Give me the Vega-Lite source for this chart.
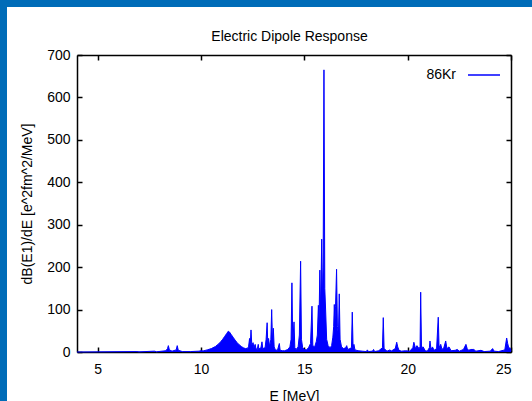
{
  "$schema": "https://vega.github.io/schema/vega-lite/v6.json",
  "width": 525,
  "height": 394,
  "autosize": {"type": "none"},
  "padding": {"left": 7, "top": 7, "right": 0, "bottom": 0},
  "background": "#006CB8",
  "title": {
    "text": "Electric Dipole Response",
    "frame": "group",
    "anchor": "middle",
    "orient": "top",
    "offset": 0,
    "baseline": "top",
    "dx": 20,
    "dy": 37,
    "font": "Liberation Sans",
    "fontSize": 14,
    "fontWeight": "normal",
    "color": "black"
  },
  "data": {
    "values": [
      {"E": 4.0, "v": 0}, {"E": 5.5, "v": 0.5}, {"E": 6.9, "v": 1}, {"E": 7.0, "v": 0.3},
      {"E": 7.75, "v": 2}, {"E": 7.85, "v": 0.5}, {"E": 8.3, "v": 3}, {"E": 8.38, "v": 8},
      {"E": 8.42, "v": 15}, {"E": 8.47, "v": 5}, {"E": 8.6, "v": 2}, {"E": 8.8, "v": 5},
      {"E": 8.85, "v": 15}, {"E": 8.9, "v": 4}, {"E": 9.1, "v": 1}, {"E": 9.5, "v": 1},
      {"E": 9.9, "v": 2}, {"E": 10.0, "v": 3}, {"E": 10.1, "v": 2.5}, {"E": 10.3, "v": 5},
      {"E": 10.5, "v": 8}, {"E": 10.7, "v": 13}, {"E": 10.85, "v": 19}, {"E": 10.95, "v": 24},
      {"E": 11.05, "v": 30}, {"E": 11.15, "v": 37}, {"E": 11.25, "v": 44}, {"E": 11.32, "v": 49},
      {"E": 11.38, "v": 47}, {"E": 11.45, "v": 42}, {"E": 11.55, "v": 35}, {"E": 11.65, "v": 28},
      {"E": 11.75, "v": 22}, {"E": 11.85, "v": 17}, {"E": 11.95, "v": 13}, {"E": 12.05, "v": 10},
      {"E": 12.15, "v": 8}, {"E": 12.25, "v": 9}, {"E": 12.3, "v": 12}, {"E": 12.35, "v": 32},
      {"E": 12.38, "v": 14}, {"E": 12.42, "v": 52}, {"E": 12.46, "v": 16}, {"E": 12.52, "v": 22},
      {"E": 12.56, "v": 10}, {"E": 12.62, "v": 18}, {"E": 12.66, "v": 8}, {"E": 12.72, "v": 6},
      {"E": 12.77, "v": 18}, {"E": 12.8, "v": 7}, {"E": 12.9, "v": 10}, {"E": 12.95, "v": 24},
      {"E": 12.99, "v": 8}, {"E": 13.1, "v": 10}, {"E": 13.15, "v": 30}, {"E": 13.2, "v": 69},
      {"E": 13.23, "v": 20}, {"E": 13.27, "v": 32}, {"E": 13.32, "v": 12}, {"E": 13.38, "v": 30},
      {"E": 13.42, "v": 100}, {"E": 13.46, "v": 25}, {"E": 13.5, "v": 56}, {"E": 13.54, "v": 12},
      {"E": 13.6, "v": 5}, {"E": 13.7, "v": 4}, {"E": 13.79, "v": 20}, {"E": 13.83, "v": 4},
      {"E": 13.95, "v": 3}, {"E": 14.05, "v": 3}, {"E": 14.2, "v": 6}, {"E": 14.3, "v": 12},
      {"E": 14.36, "v": 30}, {"E": 14.4, "v": 163}, {"E": 14.44, "v": 20}, {"E": 14.5, "v": 71},
      {"E": 14.54, "v": 10}, {"E": 14.6, "v": 6}, {"E": 14.7, "v": 12}, {"E": 14.76, "v": 40},
      {"E": 14.82, "v": 214}, {"E": 14.86, "v": 30}, {"E": 14.92, "v": 10}, {"E": 15.0, "v": 6},
      {"E": 15.1, "v": 5}, {"E": 15.2, "v": 10}, {"E": 15.3, "v": 20}, {"E": 15.37, "v": 108},
      {"E": 15.41, "v": 15}, {"E": 15.5, "v": 12}, {"E": 15.58, "v": 25}, {"E": 15.63, "v": 40},
      {"E": 15.68, "v": 110}, {"E": 15.71, "v": 70}, {"E": 15.75, "v": 193}, {"E": 15.79, "v": 90},
      {"E": 15.84, "v": 266}, {"E": 15.88, "v": 120}, {"E": 15.91, "v": 200}, {"E": 15.95, "v": 665},
      {"E": 15.99, "v": 150}, {"E": 16.03, "v": 99}, {"E": 16.08, "v": 30}, {"E": 16.15, "v": 15},
      {"E": 16.25, "v": 10}, {"E": 16.32, "v": 15}, {"E": 16.38, "v": 35}, {"E": 16.42, "v": 60},
      {"E": 16.45, "v": 112}, {"E": 16.48, "v": 70}, {"E": 16.51, "v": 108}, {"E": 16.56, "v": 195},
      {"E": 16.6, "v": 60}, {"E": 16.65, "v": 40}, {"E": 16.69, "v": 137}, {"E": 16.73, "v": 30},
      {"E": 16.8, "v": 12}, {"E": 16.9, "v": 8}, {"E": 17.0, "v": 10}, {"E": 17.05, "v": 15},
      {"E": 17.1, "v": 6}, {"E": 17.2, "v": 8}, {"E": 17.28, "v": 10}, {"E": 17.32, "v": 94},
      {"E": 17.36, "v": 10}, {"E": 17.4, "v": 18}, {"E": 17.45, "v": 5}, {"E": 17.6, "v": 3},
      {"E": 17.8, "v": 2}, {"E": 18.0, "v": 1}, {"E": 18.05, "v": 5}, {"E": 18.1, "v": 1},
      {"E": 18.3, "v": 2}, {"E": 18.35, "v": 6}, {"E": 18.4, "v": 1}, {"E": 18.6, "v": 3},
      {"E": 18.78, "v": 10}, {"E": 18.82, "v": 81}, {"E": 18.86, "v": 8}, {"E": 19.0, "v": 2},
      {"E": 19.15, "v": 5}, {"E": 19.2, "v": 2}, {"E": 19.4, "v": 8}, {"E": 19.47, "v": 23},
      {"E": 19.52, "v": 12}, {"E": 19.58, "v": 4}, {"E": 19.7, "v": 2}, {"E": 19.9, "v": 3},
      {"E": 20.1, "v": 2}, {"E": 20.25, "v": 10}, {"E": 20.3, "v": 23}, {"E": 20.38, "v": 8},
      {"E": 20.45, "v": 15}, {"E": 20.55, "v": 8}, {"E": 20.6, "v": 12}, {"E": 20.63, "v": 141},
      {"E": 20.67, "v": 10}, {"E": 20.75, "v": 12}, {"E": 20.85, "v": 3}, {"E": 20.95, "v": 2},
      {"E": 21.05, "v": 10}, {"E": 21.08, "v": 26}, {"E": 21.13, "v": 6}, {"E": 21.2, "v": 12},
      {"E": 21.28, "v": 4}, {"E": 21.4, "v": 8}, {"E": 21.48, "v": 82}, {"E": 21.52, "v": 10},
      {"E": 21.6, "v": 18}, {"E": 21.66, "v": 6}, {"E": 21.75, "v": 10}, {"E": 21.84, "v": 26},
      {"E": 21.9, "v": 8}, {"E": 22.0, "v": 12}, {"E": 22.1, "v": 3}, {"E": 22.3, "v": 4},
      {"E": 22.4, "v": 6}, {"E": 22.5, "v": 2}, {"E": 22.7, "v": 6}, {"E": 22.82, "v": 18},
      {"E": 22.88, "v": 8}, {"E": 22.95, "v": 4}, {"E": 23.05, "v": 6}, {"E": 23.2, "v": 6},
      {"E": 23.3, "v": 2}, {"E": 23.55, "v": 4}, {"E": 23.7, "v": 1}, {"E": 24.0, "v": 2},
      {"E": 24.11, "v": 8}, {"E": 24.18, "v": 2}, {"E": 24.4, "v": 1}, {"E": 24.7, "v": 5},
      {"E": 24.79, "v": 33}, {"E": 24.84, "v": 20}, {"E": 24.9, "v": 8}, {"E": 24.95, "v": 10},
      {"E": 25.0, "v": 3}
    ]
  },
  "layer": [
    {
      "mark": {"type": "area", "color": "#0000FF", "interpolate": "linear"},
      "encoding": {
        "x": {
          "field": "E", "type": "quantitative",
          "scale": {"domain": [4, 25], "range": [70, 504], "nice": false, "zero": false},
          "axis": {
            "orient": "bottom", "offset": -49, "values": [5, 10, 15, 20, 25],
            "tickSize": -5, "labelPadding": 15, "title": "E [MeV]", "titlePadding": 13
          }
        },
        "y": {
          "field": "v", "type": "quantitative",
          "scale": {"domain": [0, 700], "range": [345, 48], "nice": false},
          "axis": {
            "orient": "left", "offset": -70, "values": [0, 100, 200, 300, 400, 500, 600, 700],
            "tickSize": -5, "labelPadding": 12, "title": "dB(E1)/dE [e^2fm^2/MeV]", "titlePadding": 12
          }
        }
      }
    },
    {
      "mark": {"type": "line", "strokeWidth": 1, "interpolate": "linear"},
      "encoding": {
        "x": {
          "field": "E", "type": "quantitative",
          "axis": {"orient": "top", "offset": -48, "values": [5, 10, 15, 20, 25], "tickSize": -5, "labels": false, "title": null}
        },
        "y": {
          "field": "v", "type": "quantitative",
          "axis": {"orient": "right", "offset": -21, "values": [0, 100, 200, 300, 400, 500, 600, 700], "tickSize": -5, "labels": false, "title": null}
        },
        "color": {
          "datum": "86Kr",
          "scale": {"range": ["#0000FF"]},
          "legend": {
            "orient": "none", "legendX": 460, "legendY": 51, "title": null,
            "symbolType": "stroke", "symbolSize": 1024, "symbolStrokeWidth": 1.5,
            "labelAlign": "right", "labelOffset": -45, "padding": 0
          }
        }
      }
    }
  ],
  "resolve": {"axis": {"x": "independent", "y": "independent"}},
  "config": {
    "view": {"fill": "white", "stroke": null},
    "axis": {
      "grid": false, "domainColor": "black", "domainWidth": 1.5, "tickColor": "black", "tickWidth": 1.5,
      "labelColor": "black", "titleColor": "black", "labelFont": "Liberation Sans", "titleFont": "Liberation Sans",
      "labelFontSize": 14, "titleFontSize": 14, "titleFontWeight": "normal"
    },
    "legend": {"labelFont": "Liberation Sans", "labelFontSize": 14, "labelColor": "black"}
  }
}
